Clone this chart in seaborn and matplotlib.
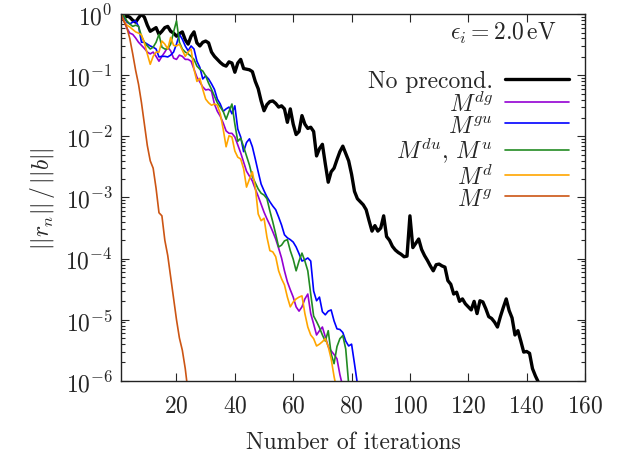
import numpy as np
import pandas as pd
import matplotlib
matplotlib.use("Agg")
import matplotlib.pyplot as plt
import matplotlib.ticker as mticker
import seaborn as sns

# Relative residual histories, stored as log10(||r_n|| / ||b||) per iteration (n = 1, 2, ...)
log10_res_none = [
    0.0, -0.06, -0.03, -0.05, -0.10, -0.13, -0.06, 0.0, -0.05, -0.18,
    -0.28, -0.25, -0.22, -0.33, -0.28, -0.22, -0.20, -0.28, -0.31, -0.36,
    -0.32, -0.29, -0.42, -0.49, -0.36, -0.29, -0.47, -0.52, -0.46, -0.44,
    -0.47, -0.62, -0.69, -0.74, -0.79, -0.83, -0.85, -0.78, -0.80, -0.95,
    -0.80, -0.74, -0.89, -0.90, -0.91, -0.94, -1.10, -1.22, -1.42, -1.58,
    -1.48, -1.43, -1.42, -1.46, -1.52, -1.50, -1.55, -1.77, -1.55, -1.80,
    -1.97, -1.92, -1.66, -1.80, -1.87, -1.85, -1.92, -2.32, -2.20, -2.13,
    -2.45, -2.75, -2.58, -2.52, -2.38, -2.25, -2.16, -2.28, -2.40, -2.62,
    -2.90, -3.02, -3.07, -3.12, -3.20, -3.38, -3.55, -3.46, -3.55, -3.50,
    -3.30, -3.64, -3.70, -3.80, -3.86, -3.90, -3.93, -3.97, -3.96, -3.30,
    -3.82, -3.75, -3.68, -3.85, -3.95, -4.03, -4.12, -4.20, -4.10, -4.09,
    -4.12, -4.14, -4.36, -4.42, -4.58, -4.55, -4.70, -4.66, -4.74, -4.79,
    -4.84, -4.70, -4.90, -4.69, -4.71, -4.82, -4.95, -4.98, -5.04, -5.12,
    -4.95, -4.80, -4.66, -4.85, -4.97, -5.25, -5.18, -5.35, -5.53, -5.52,
    -5.55, -5.80, -5.92, -6.02,
]
log10_res_dg = [
    0.0, -0.11, -0.23, -0.31, -0.33, -0.39, -0.46, -0.51, -0.56, -0.62,
    -0.65, -0.62, -0.69, -0.77, -0.69, -0.62, -0.54, -0.60, -0.72, -0.74,
    -0.67, -0.69, -0.74, -0.74, -0.77, -0.90, -1.03, -1.11, -1.19, -1.24,
    -1.23, -1.26, -1.47, -1.59, -1.67, -1.78, -1.91, -1.95, -1.95, -2.01,
    -2.14, -2.27, -2.42, -2.57, -2.65, -2.73, -2.86, -2.98, -3.11, -3.24,
    -3.35, -3.45, -3.56, -3.68, -3.83, -3.99, -4.20, -4.38, -4.51, -4.63,
    -4.79, -4.86, -4.79, -4.66, -4.58, -4.90, -5.07, -5.25, -5.18, -5.12,
    -5.28, -5.44, -5.51, -5.57, -5.64, -5.90, -6.10,
]
log10_res_gu = [
    0.0, -0.05, -0.13, -0.16, -0.13, -0.11, -0.20, -0.46, -0.46, -0.49,
    -0.52, -0.54, -0.57, -0.70, -0.69, -0.69, -0.70, -0.67, -0.62, -0.49,
    -0.33, -0.41, -0.52, -0.60, -0.52, -0.57, -0.77, -0.87, -1.06, -1.01,
    -1.06, -1.14, -1.23, -1.39, -1.47, -1.59, -1.55, -1.52, -1.63, -1.50,
    -1.88, -2.01, -2.25, -2.10, -2.04, -2.17, -2.37, -2.58, -2.78, -2.89,
    -2.99, -3.07, -3.14, -3.20, -3.32, -3.45, -3.61, -3.66, -3.69, -3.73,
    -3.81, -3.92, -4.04, -4.02, -3.99, -4.04, -4.53, -4.69, -4.63, -4.87,
    -4.92, -4.86, -4.84, -5.02, -5.15, -5.16, -5.21, -5.35, -5.43, -5.40,
    -5.72, -6.05,
]
log10_res_du = [
    0.0, -0.03, -0.11, -0.16, -0.20, -0.18, -0.20, -0.36, -0.46, -0.52,
    -0.57, -0.54, -0.46, -0.33, -0.54, -0.57, -0.57, -0.49, -0.29, -0.11,
    -0.46, -0.57, -0.62, -0.65, -0.69, -0.74, -0.85, -0.90, -0.93, -1.01,
    -1.13, -1.23, -1.34, -1.45, -1.52, -1.59, -1.72, -1.59, -1.47, -1.80,
    -2.08, -2.03, -2.17, -2.32, -2.47, -2.66, -2.76, -2.86, -2.93, -2.96,
    -3.02, -3.22, -3.40, -3.60, -3.81, -3.78, -3.71, -3.69, -3.87, -4.01,
    -4.20, -4.04, -3.91, -4.04, -4.20, -4.58, -4.94, -5.03, -5.13, -5.25,
    -5.35, -5.18, -5.56, -5.72, -5.44, -5.31, -5.26, -5.48, -6.05,
]
log10_res_d = [
    0.0, -0.11, -0.18, -0.21, -0.25, -0.29, -0.31, -0.34, -0.47, -0.65,
    -0.82, -0.69, -0.62, -0.62, -0.44, -0.49, -0.57, -0.38, -0.51, -0.52,
    -0.49, -0.59, -0.69, -0.62, -0.57, -0.90, -1.10, -1.05, -1.23, -1.39,
    -1.45, -1.49, -1.47, -1.49, -1.63, -1.88, -2.17, -1.99, -2.01, -2.24,
    -2.34, -2.37, -2.53, -2.83, -2.70, -2.58, -2.83, -3.27, -3.38, -3.34,
    -3.65, -3.87, -3.89, -3.97, -4.20, -4.33, -4.43, -4.63, -4.79, -4.71,
    -4.66, -4.63, -4.61, -4.90, -5.12, -5.25, -5.31, -5.43, -5.40, -5.36,
    -5.31, -5.44, -5.64, -5.93, -6.16,
]
log10_res_g = [
    0.0, -0.12, -0.22, -0.40, -0.65, -0.92, -1.15, -1.45, -1.80, -2.15,
    -2.40, -2.52, -2.85, -3.25, -3.30, -3.70, -3.95, -4.30, -4.65, -5.00,
    -5.30, -5.50, -5.80, -6.20,
]

series_labels = [
    "No precond.", r"$M^{dg}$", r"$M^{gu}$", r"$M^{du}$, $M^{u}$", r"$M^{d}$", r"$M^{g}$",
]
series_logs = [log10_res_none, log10_res_dg, log10_res_gu, log10_res_du, log10_res_d, log10_res_g]
series_colors = ["#000000", "#9400d3", "#0000ff", "#228b22", "#ffa500", "#cc5514"]
series_widths = [2.4, 1.2, 1.2, 1.2, 1.2, 1.2]

frames = []
for label, logs in zip(series_labels, series_logs):
    logs = np.asarray(logs)
    frames.append(pd.DataFrame({
        "iteration": np.arange(1, len(logs) + 1),
        "residual": 10.0 ** logs,
        "method": label,
    }))
data = pd.concat(frames, ignore_index=True)

sns.set_style("ticks")
plt.rcParams["font.family"] = "serif"
plt.rcParams["font.serif"] = ["cmr10", "DejaVu Serif"]
plt.rcParams["mathtext.fontset"] = "cm"
plt.rcParams["axes.formatter.use_mathtext"] = True
plt.rcParams["axes.unicode_minus"] = False

FS = 17

fig = plt.figure(figsize=(6.24, 4.60), dpi=100)
ax = fig.add_axes([0.194, 0.170, 0.7435, 0.797])

for label, color, lw in zip(series_labels, series_colors, series_widths):
    sns.lineplot(
        data=data[data["method"] == label], x="iteration", y="residual",
        color=color, linewidth=lw, label=label, ax=ax, estimator=None,
    )

ax.set_yscale("log")
ax.set_xlim(1, 160)
ax.set_ylim(1e-6, 1)
ax.xaxis.set_major_locator(mticker.FixedLocator([20, 40, 60, 80, 100, 120, 140, 160]))
ax.yaxis.set_major_locator(mticker.LogLocator(base=10, numticks=10))
ax.yaxis.set_minor_locator(mticker.LogLocator(base=10, subs=np.arange(2, 10), numticks=20))
ax.yaxis.set_minor_formatter(mticker.NullFormatter())
ax.tick_params(which="both", direction="in", top=True, right=True, labelsize=FS, width=0.8)
ax.tick_params(which="major", length=6, pad=6)
ax.tick_params(axis="x", which="major", pad=10)
ax.tick_params(which="minor", length=3)
for spine in ax.spines.values():
    spine.set_linewidth(1.0)
    spine.set_color("#222222")

ax.set_xlabel("Number of iterations", fontsize=FS, labelpad=10)
ax.set_ylabel(r"$||r_n||\,/\,||b||$", fontsize=FS, labelpad=6)

ax.text(0.94, 0.985, r"$\epsilon_i = 2.0\,\mathrm{eV}$", transform=ax.transAxes,
        ha="right", va="top", fontsize=FS)

ax.legend(loc="upper right", bbox_to_anchor=(0.995, 0.887), frameon=False,
          markerfirst=False, fontsize=FS, handlelength=2.7, handletextpad=0.5,
          labelspacing=-0.05, borderaxespad=0.2)

fig.savefig("out.png", dpi=100)
